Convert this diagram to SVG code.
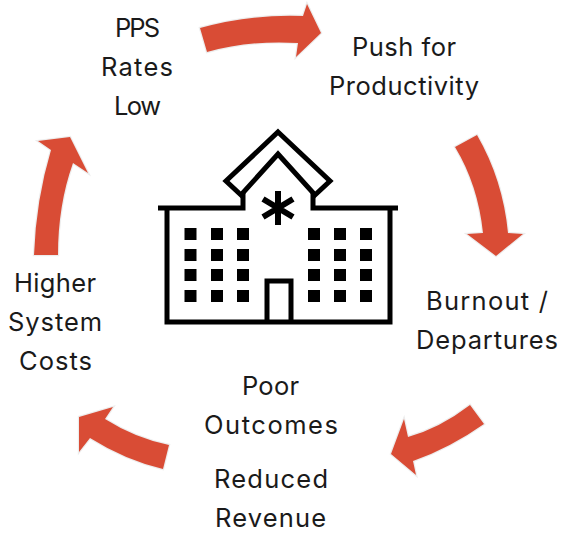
<svg xmlns="http://www.w3.org/2000/svg" width="564" height="535" viewBox="0 0 564 535">
<style>
text{font-family:"Inter","Open Sans","Liberation Sans",sans-serif;font-size:25.5px;fill:#1a1a1a;text-anchor:middle}
.a{fill:#d94c35;stroke:#ededed;stroke-width:2.4;stroke-linejoin:miter;paint-order:stroke}
.l{fill:none;stroke:#000;stroke-width:5;stroke-linejoin:miter}
.w{fill:#000}
</style>
<defs><rect id="win" class="w" width="12" height="12"/></defs>
<rect width="564" height="535" fill="#fff"/>
<g id="connectors">
<path class="a" d="M200,28Q250,14 303,16L307,4L321,33L296,57L298,43Q250,40 207,52Z"/>
<path class="a" d="M455,147L477,135Q503,180 508,233L523,234L496,256L467,234L483,233Q478,185 455,147Z"/>
<path class="a" d="M470,405L484,424Q450,448 413,461L416,475L391,454L404,419L408,437Q440,428 470,405Z"/>
<path class="a" d="M169,445L163,469Q125,460 90,438L79,452L79,417L113,407L105,419Q135,438 169,445Z"/>
<path class="a" d="M34,255L58,255Q58,205 73,163L88,173L70,137L38,141L51,150Q36,200 34,255Z"/>
</g>
<g id="hospital">
<path class="l" d="M278,132L330,181L315,195L278,154L241,195L226,181Z"/>
<path class="l" d="M158,208H243V192M398,208H313V192"/>
<path class="l" d="M167,208V322H390V208"/>
<path class="l" d="M267,322V281H291V322"/>
<path d="M278,191V225M263,199L293,217M293,199L263,217" fill="none" stroke="#000" stroke-width="6"/>
<use href="#win" x="184.500" y="228"/><use href="#win" x="211" y="228"/><use href="#win" x="237" y="228"/><use href="#win" x="308" y="228"/><use href="#win" x="334" y="228"/><use href="#win" x="360" y="228"/>
<use href="#win" x="184.500" y="249"/><use href="#win" x="211" y="249"/><use href="#win" x="237" y="249"/><use href="#win" x="308" y="249"/><use href="#win" x="334" y="249"/><use href="#win" x="360" y="249"/>
<use href="#win" x="184.500" y="269"/><use href="#win" x="211" y="269"/><use href="#win" x="237" y="269"/><use href="#win" x="308" y="269"/><use href="#win" x="334" y="269"/><use href="#win" x="360" y="269"/>
<use href="#win" x="184.500" y="290"/><use href="#win" x="211" y="290"/><use href="#win" x="237" y="290"/><use href="#win" x="308" y="290"/><use href="#win" x="334" y="290"/><use href="#win" x="360" y="290"/>
</g>
<g id="node-pps"><text x="137.500" y="37" textLength="45">PPS</text><text x="137" y="76" textLength="72">Rates</text><text x="137.500" y="115" textLength="47">Low</text></g>
<g id="node-push"><text x="404" y="56" textLength="104">Push for</text><text x="404" y="95" textLength="150">Productivity</text></g>
<g id="node-burnout"><text x="487" y="310" textLength="122">Burnout /</text><text x="487" y="349" textLength="142">Departures</text></g>
<g id="node-outcomes"><text x="270.500" y="395" textLength="57">Poor</text><text x="271" y="434" textLength="134">Outcomes</text></g>
<g id="node-revenue"><text x="271" y="488" textLength="114">Reduced</text><text x="270.500" y="527" textLength="111">Revenue</text></g>
<g id="node-costs"><text x="55" y="292" textLength="82">Higher</text><text x="55" y="331" textLength="94">System</text><text x="55.500" y="370" textLength="73">Costs</text></g>
</svg>
